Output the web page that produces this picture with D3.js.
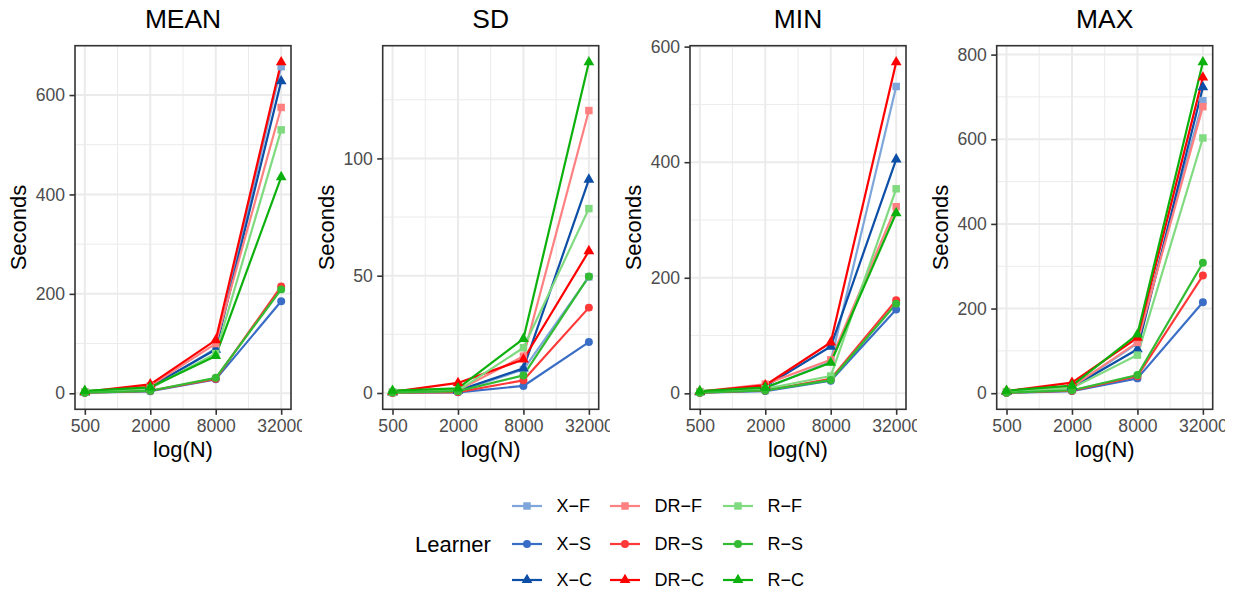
<!DOCTYPE html>
<html>
<head>
<meta charset="utf-8">
<script src="https://cdn.jsdelivr.net/npm/d3@7"></script>
<style>
  body { margin: 0; background: #fff; }
  svg { font-family: "Liberation Sans", Arial, Helvetica, sans-serif; }
</style>
</head>
<body>
<div id="chart"></div>
<script>
// sample sizes on the x axis (log scale)
const sampleSizes = [500, 2000, 8000, 32000];

// learners, in the order the legend lists them (column by column)
const learners = ["X−F", "X−S", "X−C", "DR−F", "DR−S", "DR−C", "R−F", "R−S", "R−C"];
const learnerColors = ["#7ea6da", "#3a6ec6", "#0d4ea6", "#ff8080", "#ff3838", "#ff0000", "#80da80", "#33bb33", "#0db10d"];
const learnerShapes = ["square", "circle", "triangle", "square", "circle", "triangle", "square", "circle", "triangle"];

// seconds per learner (rows follow learners), columns follow sampleSizes
const meanSeconds = [
  [2, 10, 90, 657],
  [1, 4, 28, 185],
  [2, 13, 88, 628],
  [3, 15, 100, 575],
  [1, 5, 29, 215],
  [3, 18, 107, 666],
  [2, 10, 80, 530],
  [1, 5, 31, 209],
  [5, 12, 75, 435]
];
const sdSeconds = [
  [0.3, 0.8, 10, 49.5],
  [0.1, 0.3, 3.0, 21.7],
  [0.3, 1.0, 10.5, 91],
  [0.2, 1.2, 15.7, 120.4],
  [0.1, 0.4, 5.4, 36.4],
  [0.5, 4.3, 14.3, 60.5],
  [0.3, 1.0, 19.3, 78.6],
  [0.2, 0.8, 7.5, 49.7],
  [1.0, 2.0, 23.1, 141]
];
const minSeconds = [
  [2, 9, 55, 531],
  [1, 4, 22, 145],
  [2, 12, 81, 405],
  [3, 16, 58, 323],
  [1, 5, 25, 161],
  [3, 14, 88, 573],
  [2, 8, 30, 354],
  [1, 5, 23, 155],
  [4, 10, 53, 312]
];
const maxSeconds = [
  [3, 14, 118, 691],
  [1, 5, 35, 215],
  [3, 14, 104, 723],
  [4, 15, 120, 677],
  [1, 6, 40, 278],
  [5, 25, 131, 746],
  [3, 12, 90, 603],
  [1, 7, 43, 308],
  [6, 18, 139, 782]
];

// tick labels
const xTicks = [500, 2000, 8000, 32000];
const xMinorTicks = [1000, 4000, 16000];
const meanTicks = [0, 200, 400, 600];
const sdTicks = [0, 50, 100];
const minTicks = [0, 200, 400, 600];
const maxTicks = [0, 200, 400, 600, 800];

const panelTitles = ["MEAN", "SD", "MIN", "MAX"];
const panelValues = [meanSeconds, sdSeconds, minSeconds, maxSeconds];
const panelTicks = [meanTicks, sdTicks, minTicks, maxTicks];

// layout
const width = 1244,
  height = 593,
  panelLefts = [75, 382.7, 690, 996.7],
  clipRights = [302, 610, 917, 1225],
  panelTop = 45.7,
  panelW = 216,
  panelH = 363.6,
  tickLen = 5.5;

const svg = d3.select("#chart")
  .append("svg")
    .attr("width", width)
    .attr("height", height);

const symbolTypes = {
  square: { type: d3.symbolSquare, size: 56 },
  circle: { type: d3.symbolCircle, size: 50 },
  triangle: { type: d3.symbolTriangle, size: 50 }
};

function symbolPath(shape) {
  return d3.symbol().type(symbolTypes[shape].type).size(symbolTypes[shape].size)();
}

// x scale with ggplot-like 5% expansion on the log scale
const k = Math.pow(32000 / 500, 0.05);
const xScale = d3.scaleLog()
  .domain([500 / k, 32000 * k])
  .range([0, panelW]);

function drawPanel(i) {
  const values = panelValues[i];
  const ticks = panelTicks[i];
  const all = values.flat();
  const lo = d3.min(all), hi = d3.max(all), r = hi - lo;

  const yScale = d3.scaleLinear()
    .domain([lo - 0.05 * r, hi + 0.05 * r])
    .range([panelH, 0]);

  // minor grid at half steps between the major ticks
  const step = ticks[1] - ticks[0];
  const yMinor = d3.range(ticks[0] - step / 2, hi + 0.05 * r, step)
    .filter(v => v > yScale.domain()[0] && v < yScale.domain()[1] && !ticks.includes(v));

  svg.append("clipPath")
      .attr("id", "cell-" + i)
    .append("rect")
      .attr("x", clipRights[i] - 310)
      .attr("y", 0)
      .attr("width", 310)
      .attr("height", height);

  const cell = svg.append("g")
    .attr("clip-path", "url(#cell-" + i + ")");

  const g = cell.append("g")
    .attr("transform", "translate(" + panelLefts[i] + "," + panelTop + ")");

  g.append("rect")
    .attr("width", panelW)
    .attr("height", panelH)
    .attr("fill", "#fff");

  // grid
  g.selectAll(".yminor").data(yMinor).enter().append("line")
    .attr("x1", 0).attr("x2", panelW)
    .attr("y1", d => yScale(d)).attr("y2", d => yScale(d))
    .attr("stroke", "#ebebeb").attr("stroke-width", 1);
  g.selectAll(".xminor").data(xMinorTicks).enter().append("line")
    .attr("y1", 0).attr("y2", panelH)
    .attr("x1", d => xScale(d)).attr("x2", d => xScale(d))
    .attr("stroke", "#ebebeb").attr("stroke-width", 1);
  g.selectAll(".ymajor").data(ticks).enter().append("line")
    .attr("x1", 0).attr("x2", panelW)
    .attr("y1", d => yScale(d)).attr("y2", d => yScale(d))
    .attr("stroke", "#ebebeb").attr("stroke-width", 2);
  g.selectAll(".xmajor").data(xTicks).enter().append("line")
    .attr("y1", 0).attr("y2", panelH)
    .attr("x1", d => xScale(d)).attr("x2", d => xScale(d))
    .attr("stroke", "#ebebeb").attr("stroke-width", 2);

  // lines, then points
  const line = d3.line()
    .x((d, j) => xScale(sampleSizes[j]))
    .y(d => yScale(d));

  g.selectAll(".series").data(values).enter().append("path")
    .attr("d", d => line(d))
    .attr("fill", "none")
    .attr("stroke", (d, j) => learnerColors[j])
    .attr("stroke-width", 2.2)
    .attr("stroke-linejoin", "round");

  values.forEach((row, j) => {
    g.selectAll(null).data(row).enter().append("path")
      .attr("d", symbolPath(learnerShapes[j]))
      .attr("transform", (d, m) => "translate(" + xScale(sampleSizes[m]) + "," + yScale(d) + ")")
      .attr("fill", learnerColors[j]);
  });

  // border
  g.append("rect")
    .attr("width", panelW)
    .attr("height", panelH)
    .attr("fill", "none")
    .attr("stroke", "#333333")
    .attr("stroke-width", 1.6);

  // y axis
  const yAxis = d3.axisLeft(yScale)
    .tickValues(ticks)
    .tickSize(tickLen)
    .tickPadding(4.4)
    .tickFormat(d3.format("d"));
  const ya = g.append("g").call(yAxis);
  ya.select(".domain").remove();
  ya.selectAll("line").attr("stroke", "#333333").attr("stroke-width", 1.6);
  ya.selectAll("text")
    .attr("fill", "#4d4d4d")
    .style("font-size", "17.6px")
    .style("font-family", "Liberation Sans, Arial, sans-serif");

  // x axis
  const xAxis = d3.axisBottom(xScale)
    .tickValues(xTicks)
    .tickSize(tickLen)
    .tickPadding(4.4)
    .tickFormat(d3.format("d"));
  const xa = g.append("g")
    .attr("transform", "translate(0," + panelH + ")")
    .call(xAxis);
  xa.select(".domain").remove();
  xa.selectAll("line").attr("stroke", "#333333").attr("stroke-width", 1.6);
  xa.selectAll("text")
    .attr("fill", "#4d4d4d")
    .style("font-size", "17.6px")
    .style("font-family", "Liberation Sans, Arial, sans-serif");

  // titles
  g.append("text")
    .attr("x", panelW / 2)
    .attr("y", 28.3 - panelTop)
    .attr("text-anchor", "middle")
    .style("font-size", "26.4px")
    .text(panelTitles[i]);

  g.append("text")
    .attr("x", panelW / 2)
    .attr("y", 457 - panelTop)
    .attr("text-anchor", "middle")
    .style("font-size", "22px")
    .text("log(N)");

  g.append("text")
    .attr("transform", "translate(-49," + (panelH / 2) + ") rotate(-90)")
    .attr("text-anchor", "middle")
    .style("font-size", "22px")
    .text("Seconds");
}

panelTitles.forEach((t, i) => drawPanel(i));

// legend
const legend = svg.append("g");
const colX = [512, 610, 723],
  rowY = [506, 544, 580];

legend.append("text")
  .attr("x", 415)
  .attr("y", rowY[1])
  .attr("dy", "0.36em")
  .style("font-size", "22px")
  .text("Learner");

learners.forEach((name, j) => {
  const cx = colX[Math.floor(j / 3)], cy = rowY[j % 3];
  const item = legend.append("g").attr("transform", "translate(" + cx + "," + cy + ")");
  item.append("line")
    .attr("x1", 0).attr("x2", 30)
    .attr("stroke", learnerColors[j])
    .attr("stroke-width", 2.2);
  item.append("path")
    .attr("d", symbolPath(learnerShapes[j]))
    .attr("transform", "translate(15,0)")
    .attr("fill", learnerColors[j]);
  item.append("text")
    .attr("x", 44.5)
    .attr("dy", "0.36em")
    .style("font-size", "18px")
    .text(name);
});
</script>
</body>
</html>
